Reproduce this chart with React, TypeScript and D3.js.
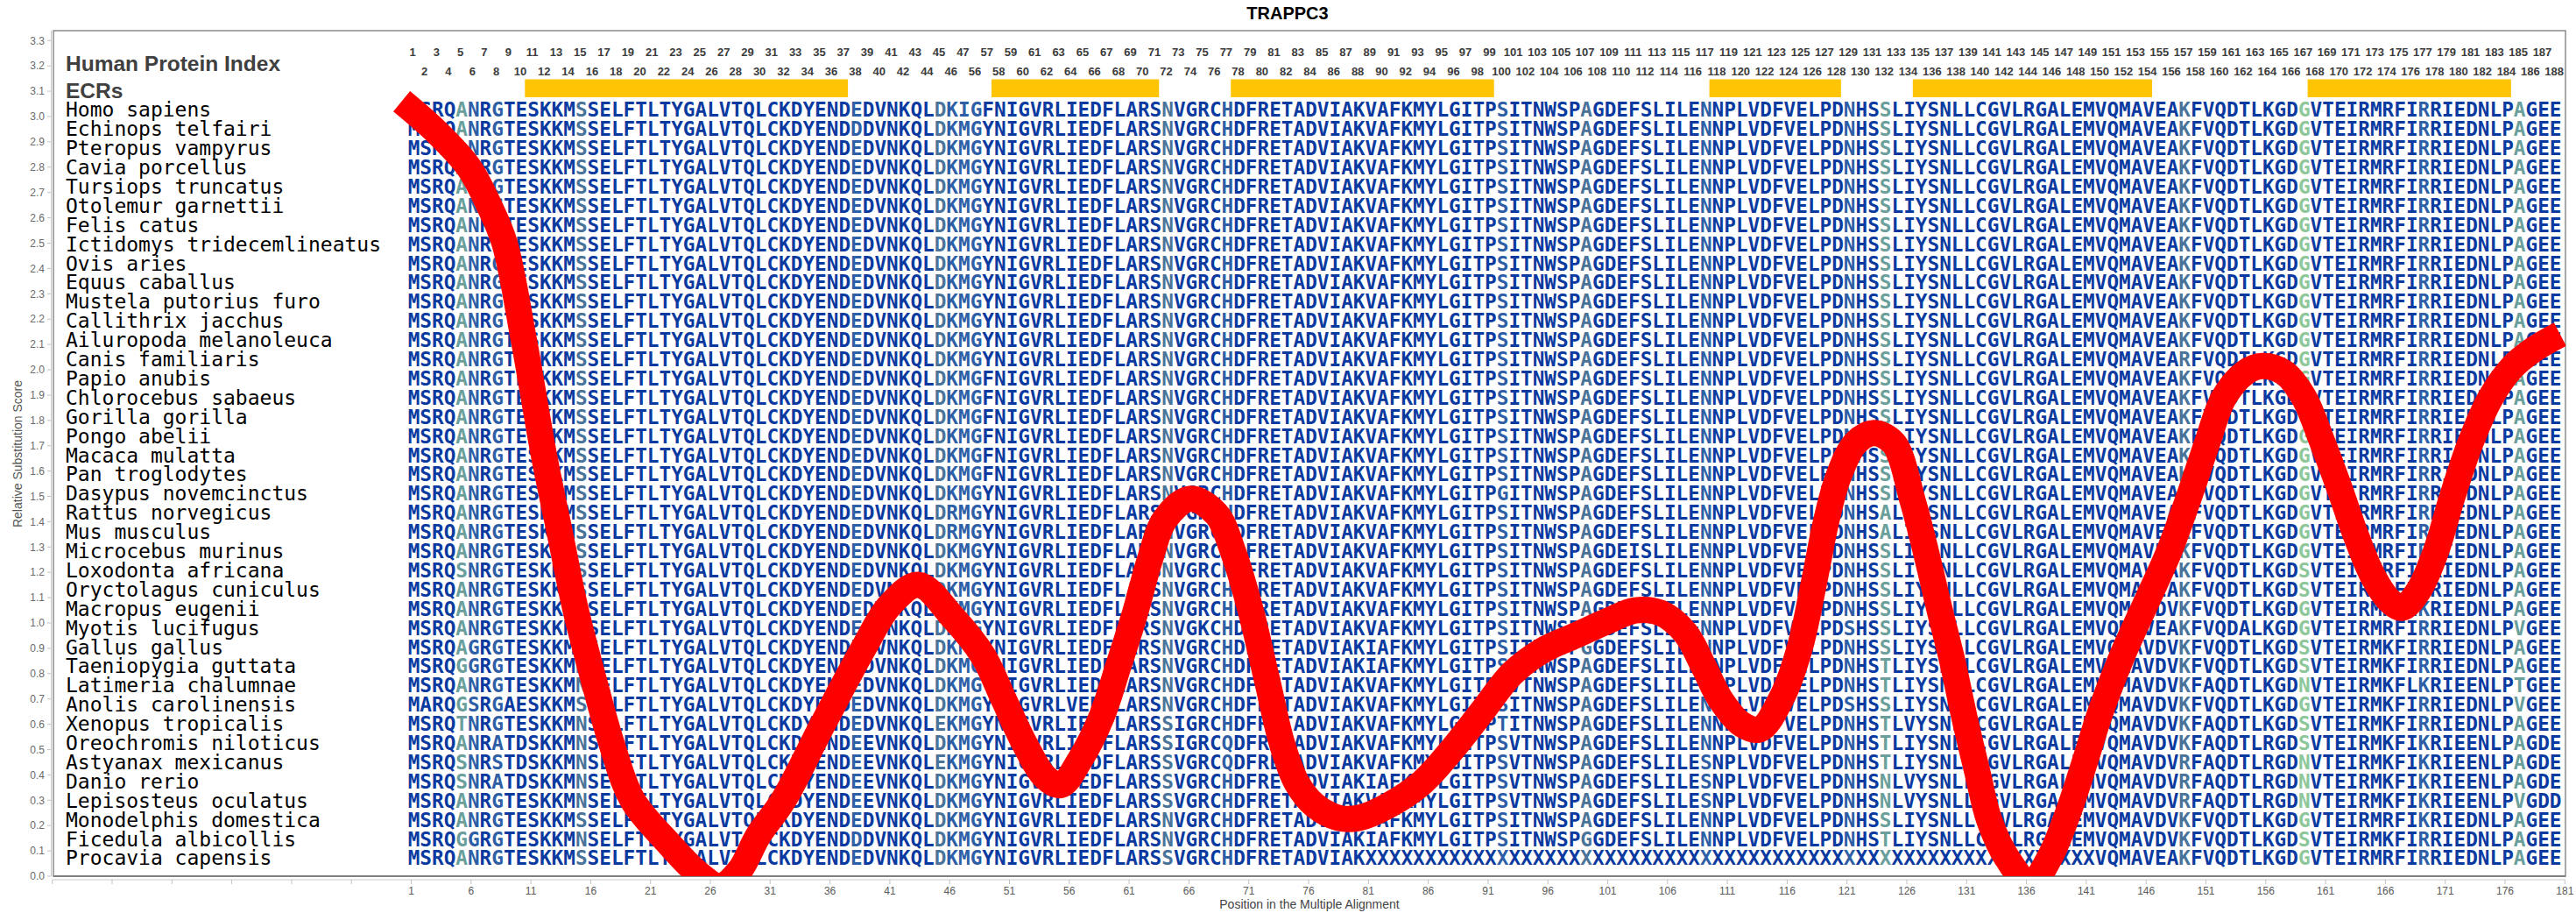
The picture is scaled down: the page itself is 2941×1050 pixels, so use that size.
import React from "react";
import * as d3 from "d3";

const WIDTH = 2941;
const HEIGHT = 1050;

const chartTitle = "TRAPPC3";
const yAxisTitle = "Relative Substitution Score";
const xAxisTitle = "Position in the Multiple Alignment";

const speciesNames = [
  "Homo sapiens", "Echinops telfairi", "Pteropus vampyrus", "Cavia porcellus",
  "Tursiops truncatus", "Otolemur garnettii", "Felis catus", "Ictidomys tridecemlineatus",
  "Ovis aries", "Equus caballus", "Mustela putorius furo", "Callithrix jacchus",
  "Ailuropoda melanoleuca", "Canis familiaris", "Papio anubis", "Chlorocebus sabaeus",
  "Gorilla gorilla", "Pongo abelii", "Macaca mulatta", "Pan troglodytes",
  "Dasypus novemcinctus", "Rattus norvegicus", "Mus musculus", "Microcebus murinus",
  "Loxodonta africana", "Oryctolagus cuniculus", "Macropus eugenii", "Myotis lucifugus",
  "Gallus gallus", "Taeniopygia guttata", "Latimeria chalumnae", "Anolis carolinensis",
  "Xenopus tropicalis", "Oreochromis niloticus", "Astyanax mexicanus", "Danio rerio",
  "Lepisosteus oculatus", "Monodelphis domestica", "Ficedula albicollis", "Procavia capensis",
];

// aligned sequences, blocks of 10 columns (spaces are only for readability)
const alignmentRows = [
  "MSRQANRGTE SKKMSSELFT LTYGALVTQL CKDYENDEDV NKQLDKIGFN IGVRLIEDFL ARSNVGRCHD FRETADVIAK VAFKMYLGIT PSITNWSPAG DEFSLILENN PLVDFVELPD NHSSLIYSNL LCGVLRGALE MVQMAVEAKF VQDTLKGDGV TEIRMRFIRR IEDNLPAGEE",
  "MSRQANRGTE SKKMSSELFT LTYGALVTQL CKDYENDDDV NKQLDKMGYN IGVRLIEDFL ARSNVGRCHD FRETADVIAK VAFKMYLGIT PSITNWSPAG DEFSLILENN PLVDFVELPD NHSSLIYSNL LCGVLRGALE MVQMAVEAKF VQDTLKGDGV TEIRMRFIRR IEDNLPAGEE",
  "MSRQANRGTE SKKMSSELFT LTYGALVTQL CKDYENDEDV NKQLDKMGYN IGVRLIEDFL ARSNVGRCHD FRETADVIAK VAFKMYLGIT PSITNWSPAG DEFSLILENN PLVDFVELPD NHSSLIYSNL LCGVLRGALE MVQMAVEAKF VQDTLKGDGV TEIRMRFIRR IEDNLPAGEE",
  "MSRQANRGTE SKKMSSELFT LTYGALVTQL CKDYENDEDV NKQLDKMGYN IGVRLIEDFL ARSNVGRCHD FRETADVIAK VAFKMYLGIT PSITNWSPAG DEFSLILENN PLVDFVELPD NHSSLIYSNL LCGVLRGALE MVQMAVEAKF VQDTLKGDGV TEIRMRFIRR IEDNLPAGEE",
  "MSRQANRGTE SKKMSSELFT LTYGALVTQL CKDYENDEDV NKQLDKMGYN IGVRLIEDFL ARSNVGRCHD FRETADVIAK VAFKMYLGIT PSITNWSPAG DEFSLILENN PLVDFVELPD NHSSLIYSNL LCGVLRGALE MVQMAVEAKF VQDTLKGDGV TEIRMRFIRR IEDNLPAGEE",
  "MSRQANRGTE SKKMSSELFT LTYGALVTQL CKDYENDEDV NKQLDKMGYN IGVRLIEDFL ARSNVGRCHD FRETADVIAK VAFKMYLGIT PSITNWSPAG DEFSLILENN PLVDFVELPD NHSSLIYSNL LCGVLRGALE MVQMAVEAKF VQDTLKGDGV TEIRMRFIRR IEDNLPAGEE",
  "MSRQANRGTE SKKMSSELFT LTYGALVTQL CKDYENDEDV NKQLDKMGYN IGVRLIEDFL ARSNVGRCHD FRETADVIAK VAFKMYLGIT PSITNWSPAG DEFSLILENN PLVDFVELPD NHSSLIYSNL LCGVLRGALE MVQMAVEAKF VQDTLKGDGV TEIRMRFIRR IEDNLPAGEE",
  "MSRQANRGTE SKKMSSELFT LTYGALVTQL CKDYENDEDV NKQLDKMGYN IGVRLIEDFL ARSNVGRCHD FRETADVIAK VAFKMYLGIT PSITNWSPAG DEFSLILENN PLVDFVELPD NHSSLIYSNL LCGVLRGALE MVQMAVEAKF VQDTLKGDGV TEIRMRFIRR IEDNLPAGEE",
  "MSRQANRGTE SKKMSSELFT LTYGALVTQL CKDYENDEDV NKQLDKMGYN IGVRLIEDFL ARSNVGRCHD FRETADVIAK VAFKMYLGIT PSITNWSPAG DEFSLILENN PLVDFVELPD NHSSLIYSNL LCGVLRGALE MVQMAVEAKF VQDTLKGDGV TEIRMRFIRR IEDNLPAGEE",
  "MSRQANRGTE SKKMSSELFT LTYGALVTQL CKDYENDEDV NKQLDKMGYN IGVRLIEDFL ARSNVGRCHD FRETADVIAK VAFKMYLGIT PSITNWSPAG DEFSLILENN PLVDFVELPD NHSSLIYSNL LCGVLRGALE MVQMAVEAKF VQDTLKGDGV TEIRMRFIRR IEDNLPAGEE",
  "MSRQANRGTE SKKMSSELFT LTYGALVTQL CKDYENDEDV NKQLDKMGYN IGVRLIEDFL ARSNVGRCHD FRETADVIAK VAFKMYLGIT PSITNWSPAG DEFSLILENN PLVDFVELPD NHSSLIYSNL LCGVLRGALE MVQMAVEAKF VQDTLKGDGV TEIRMRFIRR IEDNLPAGEE",
  "MSRQANRGTE SKKMSSELFT LTYGALVTQL CKDYENDEDV NKQLDKMGYN IGVRLIEDFL ARSNVGRCHD FRETADVIAK VAFKMYLGIT PSITNWSPAG DEFSLILENN PLVDFVELPD NHSSLIYSNL LCGVLRGALE MVQMAVEAKF VQDTLKGDGV TEIRMRFIRR IEDNLPAGEE",
  "MSRQANRGTE SKKMSSELFT LTYGALVTQL CKDYENDEDV NKQLDKMGYN IGVRLIEDFL ARSNVGRCHD FRETADVIAK VAFKMYLGIT PSITNWSPAG DEFSLILENN PLVDFVELPD NHSSLIYSNL LCGVLRGALE MVQMAVEAKF VQDTLKGDGV TEIRMRFIRR IEDNLPAGEE",
  "MSRQANRGTE SKKMSSELFT LTYGALVTQL CKDYENDEDV NKQLDKMGYN IGVRLIEDFL ARSNVGRCHD FRETADVIAK VAFKMYLGIT PSITNWSPAG DEFSLILENN PLVDFVELPD NHSSLIYSNL LCGVLRGALE MVQMAVEARF VQDTLKGDGV TEIRMRFIRR IEDNLPAGEE",
  "MSRQANRGTE SKKMSSELFT LTYGALVTQL CKDYENDEDV NKQLDKMGFN IGVRLIEDFL ARSNVGRCHD FRETADVIAK VAFKMYLGIT PSITNWSPAG DEFSLILENN PLVDFVELPD NHSSLIYSNL LCGVLRGALE MVQMAVEAKF VQDTLKGDGV TEIRMRFIRR IEDNLPAGEE",
  "MSRQANRGTE SKKMSSELFT LTYGALVTQL CKDYENDEDV NKQLDKMGFN IGVRLIEDFL ARSNVGRCHD FRETADVIAK VAFKMYLGIT PSITNWSPAG DEFSLILENN PLVDFVELPD NHSSLIYSNL LCGVLRGALE MVQMAVEAKF VQDTLKGDGV TEIRMRFIRR IEDNLPAGEE",
  "MSRQANRGTE SKKMSSELFT LTYGALVTQL CKDYENDEDV NKQLDKMGFN IGVRLIEDFL ARSNVGRCHD FRETADVIAK VAFKMYLGIT PSITNWSPAG DEFSLILENN PLVDFVELPD NHSSLIYSNL LCGVLRGALE MVQMAVEAKF VQDTLKGDGV TEIRMRFIRR IEDNLPAGEE",
  "MSRQANRGTE SKKMSSELFT LTYGALVTQL CKDYENDEDV NKQLDKMGFN IGVRLIEDFL ARSNVGRCHD FRETADVIAK VAFKMYLGIT PSITNWSPAG DEFSLILENN PLVDFVELPD NHSSLIYSNL LCGVLRGALE MVQMAVEAKF VQDTLKGDGV TEIRMRFIRR IEDNLPAGEE",
  "MSRQANRGTE SKKMSSELFT LTYGALVTQL CKDYENDEDV NKQLDKMGFN IGVRLIEDFL ARSNVGRCHD FRETADVIAK VAFKMYLGIT PSITNWSPAG DEFSLILENN PLVDFVELPD NHSSLIYSNL LCGVLRGALE MVQMAVEAKF VQDTLKGDGV TEIRMRFIRR IEDNLPAGEE",
  "MSRQANRGTE SKKMSSELFT LTYGALVTQL CKDYENDEDV NKQLDKMGFN IGVRLIEDFL ARSNVGRCHD FRETADVIAK VAFKMYLGIT PSITNWSPAG DEFSLILENN PLVDFVELPD NHSSLIYSNL LCGVLRGALE MVQMAVEAKF VQDTLKGDGV TEIRMRFIRR IEDNLPAGEE",
  "MSRQANRGTE SKKMSSELFT LTYGALVTQL CKDYENDEDV NKQLDKMGYN IGVRLIEDFL ARSNVGRCHD FRETADVIAK VAFKMYLGIT PGITNWSPAG DEFSLILENN PLVDFVELPD NHSSLIYSNL LCGVLRGALE MVQMAVEAKF VQDTLKGDGV TEIRMRFIRR IEDNLPAGEE",
  "MSRQANRGTE SKKMSSELFT LTYGALVTQL CKDYENDEDV NKQLDRMGYN IGVRLIEDFL ARSNVGRCHD FRETADVIAK VAFKMYLGIT PSITNWSPAG DEFSLILENN PLVDFVELPD NHSALIYSNL LCGVLRGALE MVQMAVEAKF VQDTLKGDGV TEIRMRFIRR IEDNLPAGEE",
  "MSRQANRGTE SKKMSSELFT LTYGALVTQL CKDYENDEDV NKQLDRMGYN IGVRLIEDFL ARSNVGRCHD FRETADVIAK VAFKMYLGIT PSITNWSPAG DEFSLILENN PLVDFVELPD NHSALIYSNL LCGVLRGALE MVQMAVEAKF VQDTLKGDGV TEIRMRFIRR IEDNLPAGEE",
  "MSRQANRGTE SKKMSSELFT LTYGALVTQL CKDYENDEDV NKQLDKMGYN IGVRLIEDFL ARSNVGRCHD FRETADVIAK VAFKMYLGIT PSITNWSPAG DEISLILENN PLVDFVELPD NHSSLIYSNL LCGVLRGALE MVQMAVEAKF VQDTLKGDGV TEIRMRFIRR IEDNLPAGEE",
  "MSRQSNRGTE SKKMSSELFT LTYGALVTQL CKDYENDEDV NKQLDKMGYN IGVRLIEDFL ARSNVGRCHD FRETADVIAK VAFKMYLGIT PSITNWSPAG DEFSLILENN PLVDFVELPD NHSSLIYSNL LCGVLRGALE MVQMAVEAKF VQDTLKGDSV TEIRMRFIRR IEDNLPAGEE",
  "MSRQANRGTE SKKMSSELFT LTYGALVTQL CKDYENDEDV NKQLDKMGYN IGVRLIEDFL ARSNVGRCHD FRETADVIAK VAFKMYLGIT PSITNWSPAG DEFSLILENN PLVDFVELPD NHSSLIYSNL LCGVLRGALE MVQMAVEAKF VQDTLKGDSV TEIRMRFIRR IEDNLPAGEE",
  "MSRQANRGTE SKKMSSELFT LTYGALVTQL CKDYENDEDV NKQLDKMGYN IGVRLIEDFL ARSNVGRCHD FRETADVIAK VAFKMYLGIT PSITNWSPAG DEFSLILENN PLVDFVELPD NHSSLIYSNL LCGVLRGALE MVQMAVDVKF VQDTLKGDGV TEIRMRFIKR IEDNLPAGEE",
  "MSRQANRGTE SKKMSSELFT LTYGALVTQL CKDYENDEDV NKQLDKMGYN IGVRLIEDFL ARSNVGKCHD FRETADVIAK VAFKMYLGIT PSITNWSPAG DEFSLIMENN PLVDFVELPD SHSSLIYSNL LCGVLRGALE MVQMAVEAKF VQDALKGDGV TEIRMRFIRR IEDNLPVGEE",
  "MSRQAGRGTE SKKMNSELFT LTYGALVTQL CKDYENDEDV NKQLDKMGYN IGVRLIEDFL ARSNVGRCHD FRETADVIAK IAFKMYLGIT PSITNWSPGG DEFSLILENN PLVDFVELPD NHSSLIYSNL LCGVLRGALE MVQMAVDVKF VQDTLKGDSV TEIRMKFIRR IEDNLPAGEE",
  "MSRQGGRGTE SKKMNSELFT LTYGALVTQL CKDYENDDDV NKQLDKMGYN IGVRLIEDFL ARSNVGRCHD FRETADVIAK IAFKMYLGIT PSITNWSPAG DEFSLILENN PLVDFVELPD NHSTLIYSNL LCGVLRGALE MVQMAVDVKF VQDTLKGDSV TEIRMKFIRR IEDNLPAGEE",
  "MSRQANRGTE SKKMNSELFT LTYGALVTQL CKDYENDEDV NKQLDKMGYN IGVRLIEDFL ARSNVGRCHD FRETADVIAK VAFKMYLGIT PSVTNWSPAG DEFSLILENN PLVDFVELPD NHSTLIYSNL LCGVLRGALE MVQMAVDVKF AQDTLKGDNV TEIRMKFLKR IEENLPTGEE",
  "MARQGSRGAE SKKMSSELFT LTYGALVTQL CKDYENDEDV NKQLDKMGYN IGVRLVEDFL ARSNVGRCHD FRETADVIAK VAFKMYLGIT PSITNWSPAG DEFSLILENN PLVDFVELPD SHSSLIYSNL LCGVLRGALE MVQMAVDVKF VQDTLKGDGV TEIRMKFIRR IEDNLPVGEE",
  "MSRQTNRGTE SKKMNSELFT LTYGALVTQL CKDYENDEDV NKQLEKMGYN IGVRLIEDFL ARSSIGRCHD FRETADVIAK VAFKMYLGIT PTITNWSPAG DEFSLILENN PLVDFVELPD NHSTLVYSNL LCGVLRGALE MVQMAVDVKF AQDTLKGDSV TEIRMKFIRR IEDNLPAGEE",
  "MSRQANRATD SKKMNSELFT LTYGALVTQL CKDYENDEEV NKQLDKMGYN IGVRLIEDFL ARSSIGRCQD FRETADVIAK VAFKMYLGIT PSVTNWSPAG DEFSLILENN PLVDFVELPD NHSTLIYSNL LCGVLRGALE MVQMAVDVKF AQDTLRGDSV TEIRMKFIKR IEENLPAGDE",
  "MSRQSNRSTD SKKMNSELFT LTYGALVTQL CKDYENDEEV NKQLEKMGYN IGVRLIEDFL ARSSVGRCQD FRETADVIAK VAFKMYLGIT PSVTNWSPAG DEFSLILESN PLVDFVELPD NHSTLIYSNL LCGVLRGALE MVQMAVDVRF AQDTLRGDNV TEIRMKFIKR IEENLPAGDE",
  "MSRQSNRATD SKKMNSELFT LTYGALVTQL CKDYENDEEV NKQLDKMGYN IGVRLIEDFL ARSSVGRCHD FRETADVIAK IAFKMYLGIT PSVTNWSPAG DEFSLILESN PLVDFVELPD NHSNLVYSNL LCGVLRGALE MVQMAVDVRF AQDTLRGDNV TEIRMKFIKR IEENLPAGDE",
  "MSRQANRGTE SKKMNSELFT LTYGALVTQL CKDYENDEEV NKQLDKMGYN IGVRLIEDFL ARSSVGRCHD FRETADVIAK VAFKMYLGIT PSVTNWSPAG DEFSLILESN PLVDFVELPD NHSNLVYSNL LCGVLRGALE MVQMAVDVRF AQDTLRGDNV TEIRMKFIKR IEENLPVGDD",
  "MSRQANRGTE SKKMSSELFT LTYGALVTQL CKDYENDEDV NKQLDKMGYN IGVRLIEDFL ARSNVGRCHD FRETADVIAK VAFKMYLGIT PSITNWSPAG DEFSLILENN PLVDFVELPD NHSSLIYSNL LCGVLRGALE MVQMAVDVKF VQDTLKGDGV TEIRMRFIKR IEDNLPAGEE",
  "MSRQGGRGTE SKKMNSELFT LTYGALVTQL CKDYENDDDV NKQLDKMGYN IGVRLIEDFL ARSNVGRCHD FRETADVIAK IAFKMYLGIT PSITNWSPGG DEFSLILENN PLVDFVELPD NHSTLIYSNL LCGVLRGALE MVQMAVDVKF VQDTLKGDSV TEIRMKFIRR IEDNLPAGEE",
  "MSRQANRGTE SKKMSSELFT LTYGALVTQL CKDYENDEDV NKQLDKMGYN IGVRLIEDFL ARSSVGRCHD FRETADVIAK XXXXXXXXXX XXXXXXXXXX XXXXXXXXXX XXXXXXXXXX XXXXXXXXXX XXXXXXXXXX XVQMAVEAKF VQDTLKGDGV TEIRMRFIRR IEDNLPAGEE",
];

// colour class of each alignment column: d dark, m medium, s slate, t teal, g green
const columnShades =
  "ddddtmdmdd ddddsddddd dddddddddd dddddddmdd ddddsmmmdd dddddddddd dddsddddmd dddddddddd dddddddddd dmddddddsd ddddddddmd dddddddddd mddtdddddd dddddddddd ddddddddsd ddddddddgd ddddddddmd ddddddtddd";

const shadeColors = {
  d: "#0a3aa0",
  m: "#2e5fa6",
  s: "#4a7399",
  t: "#6a9f9b",
  g: "#8dc79a",
};

// human protein index labels above the alignment columns
const headerLabels = [...d3.range(1, 48), ...d3.range(56, 189)];

// evolutionarily conserved regions (alignment columns)
const ecrStart = [11, 50, 70, 110, 127, 160];
const ecrEnd = [37, 63, 91, 120, 146, 176];

// relative substitution score curve
const scorePos = [
  0.2, 3.1, 5.8, 7.5, 8.8, 10.4, 12.1, 13.4, 14.7, 16.0, 17.9, 19.5, 22.5, 25.0, 26.8, 28.4, 30.0, 32.1,
  35.4, 38.8, 41.0, 43.4, 46.3, 48.8, 50.5, 52.3, 54.0, 55.3, 56.9, 58.7, 60.1, 61.5, 62.8, 64.0, 66.1,
  68.3, 69.7, 71.1, 72.6, 73.8, 75.0, 76.5, 78.5, 80.2, 82.7, 85.5, 88.0, 90.5, 93.0, 95.5, 98.3, 101.1,
  103.3, 105.4, 107.5, 109.0, 110.4, 112.2, 113.7, 115.7, 117.1, 118.2, 119.3, 120.3, 121.7, 123.2,
  124.9, 126.5, 127.6, 128.7, 129.8, 130.8, 131.9, 132.9, 134.4, 136.3, 137.9, 139.4, 140.8, 142.2,
  144.0, 146.1, 147.9, 149.6, 151.1, 152.5, 154.3, 155.7, 157.5, 159.2, 160.6, 162.1, 163.5, 164.9,
  166.3, 167.4, 168.8, 170.2, 171.6, 173.1, 174.8, 176.6, 178.4, 180.6,
];
const scoreVal = [
  3.06, 2.94, 2.8, 2.65, 2.5, 2.12, 1.66, 1.36, 1.06, 0.82, 0.5, 0.3, 0.13, 0.01, -0.04, 0.02, 0.16, 0.3,
  0.6, 0.9, 1.07, 1.15, 1.02, 0.87, 0.7, 0.52, 0.39, 0.36, 0.46, 0.63, 0.83, 1.04, 1.26, 1.41, 1.49,
  1.43, 1.28, 1.06, 0.76, 0.52, 0.37, 0.28, 0.23, 0.23, 0.28, 0.37, 0.5, 0.65, 0.8, 0.89, 0.95, 1.01,
  1.05, 1.04, 0.96, 0.83, 0.7, 0.6, 0.58, 0.72, 0.91, 1.15, 1.41, 1.58, 1.71, 1.75,
  1.71, 1.48, 1.28, 1.06, 0.85, 0.63, 0.41, 0.22, 0.07, -0.03, 0.07, 0.24, 0.44, 0.65,
  0.87, 1.09, 1.28, 1.5, 1.71, 1.89, 1.99, 2.015, 1.99, 1.89, 1.73, 1.54, 1.35, 1.19,
  1.09, 1.06, 1.13, 1.28, 1.5, 1.71, 1.89, 2.01, 2.08, 2.14,
];

const yTickValues = d3.range(0, 34).map((i) => i / 10);
const xTickValues = d3.range(-29, 182, 5);

const SANS = "'Liberation Sans', Arial, sans-serif";
const MONO = "'DejaVu Sans Mono', monospace";

export default function App() {
  const plotLeft = 61;
  const plotRight = 2929;
  const plotTop = 35;
  const plotBottom = 1000;

  const x = d3.scaleLinear().domain([1, 181]).range([469.5, 2928.3]);
  const y = d3.scaleLinear().domain([0, 3.3]).range([1000, 46.3]);

  const rowBase = (i: number) => 133.3 + 21.9 * i;
  const charDx = 3;

  const seqs = alignmentRows.map((s) => s.replace(/ /g, ""));
  const shades = columnShades.replace(/ /g, "");

  const line = d3
    .line<number>()
    .x((i) => x(scorePos[i]))
    .y((i) => y(scoreVal[i]))
    .curve(d3.curveCatmullRom.alpha(0.5));
  const pathD = line(d3.range(scorePos.length)) || "";

  return (
    <svg width={WIDTH} height={HEIGHT} style={{ display: "block", position: "absolute", left: 0, top: 0 }}>
      <rect x={0} y={0} width={WIDTH} height={HEIGHT} fill="#ffffff" />
      <defs>
        <clipPath id="plotClip">
          <rect x={plotLeft} y={plotTop} width={plotRight - plotLeft} height={plotBottom - plotTop} />
        </clipPath>
      </defs>

      {/* title */}
      <text x={1470} y={22} textAnchor="middle" fontFamily={SANS} fontWeight="bold" fontSize={20} fill="#000">
        {chartTitle}
      </text>

      {/* y axis */}
      <line x1={58.5} x2={58.5} y1={plotTop} y2={plotBottom} stroke="#c4c4c4" strokeWidth={1} />
      {yTickValues.map((v) => (
        <g key={"yt" + v}>
          <line x1={54} x2={58.5} y1={y(v)} y2={y(v)} stroke="#c4c4c4" strokeWidth={1} />
          <text x={51} y={y(v) + 4.2} textAnchor="end" fontFamily={SANS} fontSize={12} fill="#6a6a6a">
            {v.toFixed(1)}
          </text>
        </g>
      ))}
      <text
        transform={`translate(25,518) rotate(-90)`}
        textAnchor="middle"
        fontFamily={SANS}
        fontSize={14}
        fill="#555"
      >
        {yAxisTitle}
      </text>

      {/* x axis */}
      <line x1={x(-29)} x2={x(181)} y1={1004} y2={1004} stroke="#c8c8c8" strokeWidth={1} />
      {xTickValues.map((v) => (
        <g key={"xt" + v}>
          <line x1={x(v)} x2={x(v)} y1={1004} y2={1009} stroke="#c0c0c0" strokeWidth={1} />
          {v >= 1 && (
            <text x={x(v)} y={1021} textAnchor="middle" fontFamily={SANS} fontSize={12} fill="#5a5a5a">
              {v}
            </text>
          )}
        </g>
      ))}
      <text x={1495} y={1037} textAnchor="middle" fontFamily={SANS} fontSize={14} fill="#444">
        {xAxisTitle}
      </text>

      {/* plot frame */}
      <rect
        x={plotLeft}
        y={plotTop}
        width={plotRight - plotLeft}
        height={plotBottom - plotTop}
        fill="none"
        stroke="#8c8c8c"
        strokeWidth={1.5}
      />
      <line x1={plotLeft} x2={plotRight} y1={plotBottom} y2={plotBottom} stroke="#808080" strokeWidth={2} />

      {/* header labels */}
      {headerLabels.map((lab, i) => (
        <text
          key={"h" + i}
          x={x(i + 1) + 1.5}
          y={lab % 2 === 1 ? 64 : 85.5}
          textAnchor="middle"
          fontFamily={SANS}
          fontWeight="bold"
          fontSize={13}
          fill="#3c3c3c"
        >
          {lab}
        </text>
      ))}
      <text x={75} y={81} fontFamily={SANS} fontWeight="bold" fontSize={24.5} fill="#404040">
        Human Protein Index
      </text>
      <text x={75} y={112} fontFamily={SANS} fontWeight="bold" fontSize={24.5} fill="#404040">
        ECRs
      </text>

      {/* ECR bars */}
      {ecrStart.map((s, i) => (
        <rect
          key={"ecr" + i}
          x={x(s - 0.5)}
          y={90.5}
          width={x(ecrEnd[i] + 0.5) - x(s - 0.5)}
          height={20.5}
          fill="#ffc505"
        />
      ))}

      {/* species names */}
      {speciesNames.map((n, i) => (
        <text key={"sp" + i} x={75} y={rowBase(i)} fontFamily={MONO} fontSize={23} fill="#000" xmlSpace="preserve">
          {n}
        </text>
      ))}

      {/* alignment */}
      <g fontFamily={MONO} fontWeight="bold" fontSize={22.7} textAnchor="middle">
        {seqs.map((s, r) =>
          s.split("").map((ch, c) => (
            <text
              key={r + "_" + c}
              x={x(c + 1) + charDx}
              y={rowBase(r)}
              fill={(shadeColors as any)[shades[c]] || shadeColors.d}
            >
              {ch}
            </text>
          ))
        )}
      </g>

      {/* substitution score curve */}
      <g clipPath="url(#plotClip)">
        <path d={pathD} fill="none" stroke="#ff0000" strokeWidth={30} strokeLinejoin="round" />
      </g>
    </svg>
  );
}
